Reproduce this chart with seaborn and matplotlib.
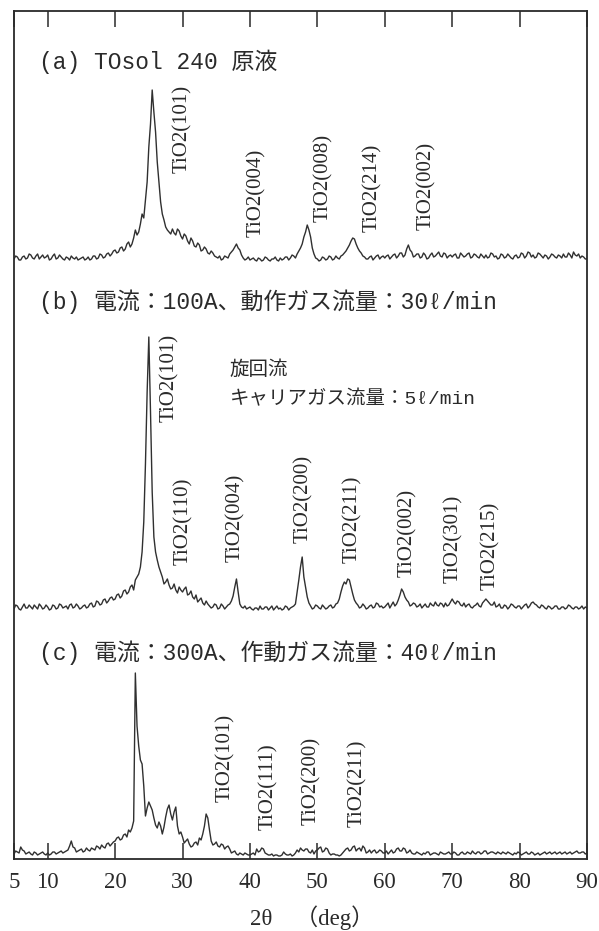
import numpy as np
import pandas as pd
import matplotlib
matplotlib.use("Agg")
import matplotlib.pyplot as plt
import seaborn as sns

# ------------------------------------------
# data: XRD scans
# counts on the 0.5 deg grid (5.0, 5.5, ...) and in between (5.25, 5.75, ...)
# ------------------------------------------
two_theta = np.arange(5.0, 90.01, 0.25)

# (a) TOsol 240 stock solution
counts_a = [
    3, 5, 2, 6, 4, 7, 3, 8, 5, 4,
    7, 3, 8, 4, 5, 2, 4, 6, 3, 2,
    4, 2, 5, 3, 6, 4, 7, 5, 9, 8,
    12, 10, 15, 13, 20, 18, 32, 30, 48, 62,
    115, 172, 130, 80, 48, 35, 30, 33, 27, 31,
    23, 26, 18, 21, 15, 17, 12, 13, 8, 9,
    5, 6, 3, 5, 8, 12, 18, 12, 4, 3,
    2, 4, 1, 3, 2, 4, 1, 3, 2, 4,
    3, 5, 4, 6, 8, 14, 25, 37, 25, 8,
    3, 2, 4, 3, 5, 3, 4, 6, 9, 14,
    21, 23, 14, 9, 5, 3, 6, 4, 7, 5,
    4, 7, 5, 8, 6, 9, 7, 17, 10, 6,
    8, 5, 7, 4, 9, 6, 10, 5, 8, 6,
    5, 8, 4, 7, 6, 9, 5, 7, 4, 6,
    7, 5, 8, 6, 4, 7, 5, 6, 3, 7,
    5, 8, 6, 9, 7, 5, 8, 4, 6, 5,
    7, 4, 6, 8, 5, 7, 10, 6, 4, 5,
    3,
]
counts_a_mid = [
    6, 2, 5, 3, 8, 4, 6, 3, 7, 5,
    2, 6, 3, 7, 3, 5, 2, 4, 5, 3,
    5, 3, 2, 6, 3, 8, 4, 8, 6, 11,
    9, 14, 11, 18, 15, 24, 27, 38, 44, 80,
    138, 150, 100, 60, 42, 32, 28, 29, 33, 26,
    28, 21, 24, 16, 19, 11, 15, 9, 11, 6,
    4, 2, 6, 4, 10, 15, 14, 7, 2, 5,
    3, 2, 4, 1, 5, 2, 3, 5, 1, 2,
    5, 2, 7, 4, 11, 18, 30, 32, 14, 4,
    1, 5, 2, 6, 2, 6, 3, 7, 11, 17,
    24, 18, 11, 6, 3, 5, 2, 6, 3, 6,
    6, 3, 7, 4, 9, 5, 13, 12, 5, 8,
    4, 9, 3, 7, 5, 8, 6, 9, 4, 7,
    7, 4, 9, 5, 8, 4, 8, 5, 8, 4,
    4, 9, 5, 3, 8, 4, 8, 4, 6, 4,
    9, 4, 10, 5, 4, 9, 6, 7, 3, 8,
    5, 7, 4, 5, 9, 4, 7, 8, 6, 3,
]

# (b) 100 A, working gas 30 l/min
counts_b = [
    3, 6, 2, 8, 4, 5, 7, 3, 6, 4,
    5, 3, 6, 4, 7, 5, 3, 8, 5, 6,
    4, 7, 5, 9, 6, 10, 8, 13, 11, 15,
    13, 18, 16, 22, 20, 27, 32, 38, 60, 148,
    275, 120, 60, 45, 35, 30, 27, 24, 22, 25,
    20, 25, 18, 15, 17, 12, 9, 11, 6, 5,
    7, 4, 6, 5, 8, 16, 33, 8, 4, 3,
    5, 2, 4, 6, 3, 5, 4, 2, 6, 4,
    3, 5, 4, 6, 20, 45, 35, 15, 6, 4,
    6, 3, 5, 4, 7, 5, 9, 20, 30, 33,
    25, 12, 7, 5, 6, 4, 7, 5, 8, 6,
    5, 9, 7, 6, 12, 23, 15, 10, 7, 8,
    6, 4, 8, 5, 7, 10, 6, 8, 9, 7,
    13, 8, 10, 6, 5, 8, 4, 7, 6, 9,
    13, 9, 7, 5, 8, 4, 6, 5, 7, 4,
    6, 5, 8, 6, 10, 7, 4, 6, 3, 5,
    4, 6, 3, 5, 4, 6, 3, 5, 4, 3,
    4,
]
counts_b_mid = [
    7, 3, 5, 4, 7, 3, 5, 8, 3, 7,
    2, 7, 3, 8, 4, 6, 7, 4, 8, 3,
    6, 4, 8, 5, 11, 7, 12, 9, 14, 12,
    17, 14, 21, 18, 25, 22, 35, 45, 90, 220,
    200, 75, 52, 40, 28, 33, 23, 28, 19, 22,
    23, 17, 21, 13, 10, 14, 7, 8, 4, 8,
    3, 8, 3, 7, 11, 25, 20, 5, 6, 4,
    3, 4, 2, 3, 5, 2, 6, 4, 3, 2,
    6, 2, 5, 8, 32, 55, 25, 9, 3, 7,
    4, 7, 3, 6, 4, 8, 13, 26, 28, 32,
    18, 9, 4, 8, 3, 6, 4, 9, 5, 4,
    7, 4, 10, 8, 17, 20, 12, 6, 9, 5,
    8, 6, 5, 9, 6, 7, 9, 5, 6, 10,
    10, 11, 7, 9, 7, 5, 6, 9, 5, 11,
    11, 7, 10, 6, 4, 7, 3, 8, 5, 6,
    3, 7, 4, 9, 8, 5, 7, 4, 6, 3,
    6, 3, 5, 3, 7, 4, 5, 3, 6, 5,
]

# (c) 300 A, working gas 40 l/min
counts_c = [
    2, 4, 9, 5, 3, 2, 4, 1, 3, 2,
    3, 2, 4, 3, 5, 4, 6, 15, 8, 5,
    7, 5, 6, 8, 6, 9, 11, 8, 13, 12,
    15, 19, 17, 22, 26, 28, 183, 110, 92, 40,
    54, 46, 31, 34, 22, 39, 51, 36, 49, 22,
    19, 15, 12, 10, 14, 18, 22, 42, 26, 11,
    14, 9, 11, 9, 7, 4, 2, 3, 1, 2,
    1, 3, 7, 5, 7, 2, 1, 0, 1, 0,
    4, 1, 2, 1, 6, 8, 5, 7, 3, 2,
    6, 9, 5, 7, 1, 2, 1, 1, 5, 8,
    6, 10, 7, 5, 8, 4, 3, 6, 4, 5,
    3, 2, 6, 4, 8, 5, 7, 4, 3, 2,
    3, 1, 2, 4, 2, 3, 1, 3, 2, 4,
    2, 3, 1, 4, 2, 3, 5, 2, 4, 3,
    5, 3, 4, 2, 3, 4, 2, 3, 1, 2,
    3, 2, 4, 2, 3, 2, 1, 3, 2, 4,
    3, 2, 4, 3, 2, 4, 3, 5, 3, 4,
    3,
]
counts_c_mid = [
    5, 3, 6, 2, 4, 1, 3, 2, 4, 1,
    1, 4, 2, 4, 3, 5, 10, 9, 4, 6,
    4, 8, 5, 7, 10, 7, 9, 12, 10, 14,
    18, 16, 21, 19, 24, 35, 130, 96, 70, 48,
    50, 38, 28, 30, 29, 47, 42, 44, 30, 24,
    13, 17, 9, 13, 11, 16, 30, 38, 15, 12,
    10, 12, 7, 10, 3, 5, 1, 2, 3, 1,
    2, 1, 4, 8, 3, 1, 2, 1, 0, 1,
    2, 1, 0, 3, 4, 6, 7, 4, 6, 5,
    8, 4, 8, 3, 2, 1, 0, 3, 7, 5,
    9, 5, 8, 10, 3, 6, 5, 3, 6, 3,
    5, 4, 3, 7, 5, 8, 3, 6, 2, 4,
    2, 3, 4, 1, 3, 2, 4, 2, 3, 2,
    4, 1, 3, 2, 4, 2, 3, 4, 2, 5,
    2, 4, 3, 4, 2, 3, 4, 2, 3, 4,
    1, 3, 2, 4, 1, 3, 2, 4, 3, 2,
    4, 3, 2, 4, 3, 2, 4, 3, 4, 2,
]

offsets = {"a": 597, "b": 247, "c": 3}

titles = {
    "a": "(a) TOsol 240 原液",
    "b": "(b) 電流：100A、動作ガス流量：30ℓ/min",
    "c": "(c) 電流：300A、作動ガス流量：40ℓ/min",
}

# peak labels: name, 2theta of label, bottom of label (same units as intensity)
labels_a = ["TiO2(101)", "TiO2(004)", "TiO2(008)", "TiO2(214)", "TiO2(002)"]
label_x_a = [30.0, 40.9, 50.95, 58.2, 66.2]
label_y_a = [686, 622, 637, 627, 629]

labels_b = ["TiO2(101)", "TiO2(110)", "TiO2(004)", "TiO2(200)", "TiO2(211)",
            "TiO2(002)", "TiO2(301)", "TiO2(215)"]
label_x_b = [28.0, 30.2, 37.9, 47.9, 55.2, 63.3, 70.25, 75.7]
label_y_b = [437, 294, 297, 316, 296, 282, 276, 269]

labels_c = ["TiO2(101)", "TiO2(111)", "TiO2(200)", "TiO2(211)"]
label_x_c = [36.3, 42.7, 49.1, 56.0]
label_y_c = [57, 29, 34, 32]

xticks = [5, 10, 20, 30, 40, 50, 60, 70, 80, 90]

# ------------------------------------------
# plot
# ------------------------------------------
sns.set_theme(style="white")
plt.rcParams["font.family"] = ["Liberation Serif", "Noto Sans CJK JP", "DejaVu Sans"]

ink = "#2a2a2a"
jp_font = ["Liberation Mono", "Noto Sans CJK JP", "DejaVu Sans"]

fig = plt.figure(figsize=(5.99, 9.31), dpi=100)
ax = fig.add_axes([14 / 599, 72 / 931, 573 / 599, 848.3 / 931])

scans = {"a": (counts_a, counts_a_mid),
         "b": (counts_b, counts_b_mid),
         "c": (counts_c, counts_c_mid)}

for key, (grid_vals, mid_vals) in scans.items():
    counts = np.empty(len(two_theta))
    counts[0::2] = grid_vals
    counts[1::2] = mid_vals
    df = pd.DataFrame({"two_theta": two_theta,
                       "intensity": counts + offsets[key]})
    sns.lineplot(data=df, x="two_theta", y="intensity", ax=ax, color="#303030",
                 linewidth=1.0, estimator=None, sort=False)

ax.set_xlim(5, 90)
ax.set_ylim(0, 848.3)
ax.set_xlabel("")
ax.set_ylabel("")
ax.set_yticks([])
ax.set_xticks(xticks)
ax.set_xticklabels([str(t) for t in xticks])
ax.tick_params(axis="x", direction="in", length=11.5, width=1.1, color=ink,
               top=True, bottom=True, labelsize=16.5, labelcolor=ink, pad=9)
for s in ax.spines.values():
    s.set_color(ink)
    s.set_linewidth(1.3)

# panel titles
for key, y in zip(["a", "b", "c"], [797, 557, 206]):
    ax.text(8.7, y, titles[key], fontsize=16.5, color=ink, family=jp_font,
            ha="left", va="center")

# swirl flow note in (b)
ax.text(37.0, 489, "旋回流", fontsize=14, color=ink, family=jp_font,
        ha="left", va="center")
ax.text(37.0, 460, "キャリアガス流量：5ℓ/min", fontsize=14, color=ink,
        family=jp_font, ha="left", va="center")

# peak labels
for names, xs, ys in [(labels_a, label_x_a, label_y_a),
                      (labels_b, label_x_b, label_y_b),
                      (labels_c, label_x_c, label_y_c)]:
    for name, x, y in zip(names, xs, ys):
        ax.text(x, y, name, rotation=90, fontsize=15, color=ink,
                family="Liberation Serif", ha="center", va="bottom")

fig.text(312 / 599, 1 - 918 / 931, "2θ　（deg）", fontsize=16.5, color=ink,
         family=["Liberation Serif", "Noto Sans CJK JP"], ha="center", va="center")

fig.savefig("out.png", dpi=100, facecolor="white")
